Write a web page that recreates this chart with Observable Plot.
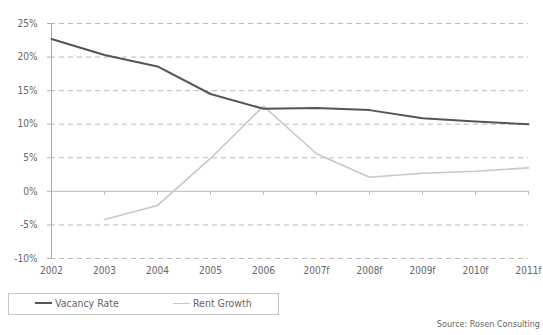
<!DOCTYPE html>
<html><head><meta charset="utf-8">
<script src="https://cdn.jsdelivr.net/npm/d3@7"></script>
<script src="https://cdn.jsdelivr.net/npm/@observablehq/plot@0.6"></script>
<style>
body{margin:0;background:#fff;font-family:"DejaVu Sans",sans-serif;font-stretch:condensed;color:#666;}
#wrap{position:relative;width:543px;height:335px;}
#chart svg{font-stretch:condensed;}
#legend{position:absolute;left:8px;top:293px;width:269px;height:20px;border:1px solid #c4c4c4;font-size:10.5px;}
.item{position:absolute;top:3px;display:flex;align-items:center;}
.sw{display:inline-block;width:17px;margin-right:3px;}
#source{position:absolute;right:3px;top:319px;font-size:9px;}
</style></head>
<body><div id="wrap"><div id="chart"></div>
<div id="legend">
<div class="item" style="left:26px"><span class="sw" style="border-top:2px solid #555"></span>Vacancy Rate</div>
<div class="item" style="left:164px"><span class="sw" style="border-top:1.5px solid #c8c8c8"></span>Rent Growth</div>
</div>
<div id="source">Source: Rosen Consulting</div>
</div>
<script>
const years = ["2002","2003","2004","2005","2006","2007f","2008f","2009f","2010f","2011f"];
const vacancyRate = [22.7,20.3,18.6,14.5,12.3,12.4,12.1,10.9,10.4,10.0];
const rentGrowth = [null,-4.2,-2.1,4.9,12.7,5.6,2.1,2.7,3.0,3.5];
const yTicks = [25,20,15,10,5,0,-5,-10];

const vac = years.map((y,i)=>({year:y, v:vacancyRate[i]}));
const rent = years.map((y,i)=>({year:y, v:rentGrowth[i]})).filter(d=>d.v!=null);

const chart = Plot.plot({
  width:543, height:285,
  marginLeft:50, marginRight:15, marginTop:23, marginBottom:27,
  style:{fontFamily:'"DejaVu Sans",sans-serif', fontSize:"10px", color:"#666"},
  x:{type:"point", domain:years, padding:0, label:null},
  y:{domain:[-10,25], label:null},
  marks:[
    Plot.ruleY(yTicks.filter(t=>t!==0), {stroke:"#bbb", strokeDasharray:"5,4", strokeWidth:1}),
    Plot.ruleY([0], {stroke:"#bbb", strokeWidth:1}),
    Plot.ruleX(years, {x:d=>d, y1:0, y2:-0.6, stroke:"#bbb"}),
    Plot.ruleX([years[0]], {stroke:"#aaa", y1:-10, y2:25}),
    Plot.axisY({ticks:yTicks, tickFormat:d=>d+"%", tickSize:3, tickPadding:10, stroke:"#aaa", fill:"#666", label:null}),
    Plot.axisX({tickSize:0, tickPadding:8, fill:"#666", label:null}),
    Plot.line(rent, {x:"year", y:"v", stroke:"#c8c8c8", strokeWidth:1.6}),
    Plot.line(vac, {x:"year", y:"v", stroke:"#555", strokeWidth:2})
  ]
});
document.getElementById("chart").appendChild(chart);
</script></body></html>
